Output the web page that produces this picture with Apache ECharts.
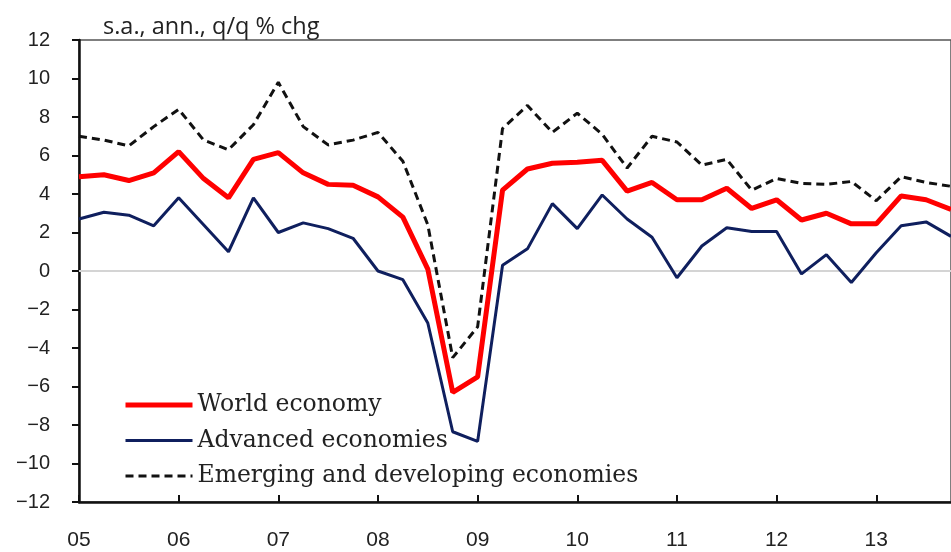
<!DOCTYPE html>
<html>
<head>
<meta charset="utf-8">
<script src="https://cdn.jsdelivr.net/npm/echarts@6/dist/echarts.min.js"></script>
<style>
  html, body { margin: 0; padding: 0; background: #fff; }
  #chart { width: 951px; height: 552px; }
</style>
</head>
<body>
<div id="chart"></div>
<script>
const years = ['05', '06', '07', '08', '09', '10', '11', '12', '13'];
const quarters = ['Q1', 'Q2', 'Q3', 'Q4'];

const worldEconomy = [4.9, 5.0, 4.7, 5.1, 6.2, 4.8, 3.8, 5.8, 6.15, 5.1, 4.5, 4.45, 3.85, 2.8, 0.1, -6.3,
  -5.5, 4.2, 5.3, 5.6, 5.65, 5.75, 4.15, 4.6, 3.7, 3.7, 4.3, 3.25, 3.7, 2.65, 3.0, 2.45, 2.45, 3.9, 3.7, 3.2];
const advancedEconomies = [2.7, 3.05, 2.9, 2.35, 3.8, 2.4, 1.0, 3.8, 2.0, 2.5, 2.2, 1.7, 0.0, -0.45, -2.7, -8.35,
  -8.85, 0.3, 1.15, 3.5, 2.2, 3.95, 2.7, 1.75, -0.35, 1.3, 2.25, 2.05, 2.05, -0.15, 0.85, -0.6, 0.95, 2.35, 2.55, 1.8];
const emergingEconomies = [7.0, 6.8, 6.5, 7.5, 8.4, 6.8, 6.3, 7.6, 9.8, 7.5, 6.55, 6.8, 7.2, 5.7, 2.4, -4.5,
  -2.9, 7.4, 8.6, 7.2, 8.2, 7.1, 5.35, 7.0, 6.7, 5.5, 5.8, 4.2, 4.8, 4.55, 4.5, 4.65, 3.65, 4.9, 4.6, 4.4];

// one category per quarter, year label on the first quarter
const categories = [];
years.forEach(y => quarters.forEach(q => categories.push(y + q)));

const chart = echarts.init(document.getElementById('chart'));

const option = {
  animation: false,
  backgroundColor: '#fff',
  title: {
    text: 's.a., ann., q/q % chg',
    left: 98,
    top: 10,
    textStyle: { fontFamily: 'Open Sans', fontSize: 23.5, fontWeight: 'normal', color: '#222' }
  },
  grid: {
    left: 79,
    right: -13,
    top: 40,
    bottom: 50,
    show: true,
    borderColor: '#555',
    borderWidth: 1.5
  },
  legend: {
    orient: 'vertical',
    left: 118,
    top: 388,
    itemWidth: 67,
    itemHeight: 14,
    itemGap: 11.5,
    itemStyle: { opacity: 0 },
    lineStyle: { width: 'inherit' },
    data: ['World economy', 'Advanced economies', 'Emerging and developing economies'],
    textStyle: { fontFamily: 'DejaVu Serif', fontSize: 23.5, color: '#222', lineHeight: 24 }
  },
  xAxis: {
    type: 'category',
    data: categories,
    boundaryGap: false,
    axisLine: { onZero: false, lineStyle: { color: '#111', width: 2.5 } },
    axisTick: {
      inside: true,
      length: 7,
      interval: i => i % 4 === 0,
      lineStyle: { color: '#111', width: 2 }
    },
    axisLabel: {
      interval: i => i % 4 === 0,
      formatter: v => v.slice(0, 2),
      margin: 28,
      fontFamily: 'Liberation Sans',
      fontSize: 21,
      color: '#222'
    },
    splitLine: { show: false }
  },
  yAxis: {
    type: 'value',
    min: -12,
    max: 12,
    interval: 2,
    axisLine: { show: true, lineStyle: { color: '#111', width: 2.5 } },
    axisTick: { show: true, length: 7, lineStyle: { color: '#111', width: 2 } },
    axisLabel: {
      margin: 29,
      fontFamily: 'Liberation Sans',
      fontSize: 20,
      color: '#222',
      formatter: v => String(v).replace('-', '\u2212')
    },
    splitLine: { show: false }
  },
  series: [
    {
      name: 'World economy',
      type: 'line',
      data: worldEconomy,
      symbol: 'none',
      z: 4,
      lineStyle: { color: '#ff0000', width: 5 },
      itemStyle: { color: '#ff0000' },
      markLine: {
        silent: true,
        symbol: 'none',
        label: { show: false },
        lineStyle: { color: '#d4d4d4', width: 2, type: 'solid' },
        data: [{ yAxis: 0 }],
        z: 1
      }
    },
    {
      name: 'Advanced economies',
      type: 'line',
      data: advancedEconomies,
      symbol: 'none',
      z: 3,
      lineStyle: { color: '#0f1f5e', width: 3 },
      itemStyle: { color: '#0f1f5e' }
    },
    {
      name: 'Emerging and developing economies',
      type: 'line',
      data: emergingEconomies,
      symbol: 'none',
      z: 3,
      lineStyle: { color: '#111', width: 3, type: [8, 5] },
      itemStyle: { color: '#111' }
    }
  ]
};

chart.setOption(option);
</script>
</body>
</html>
